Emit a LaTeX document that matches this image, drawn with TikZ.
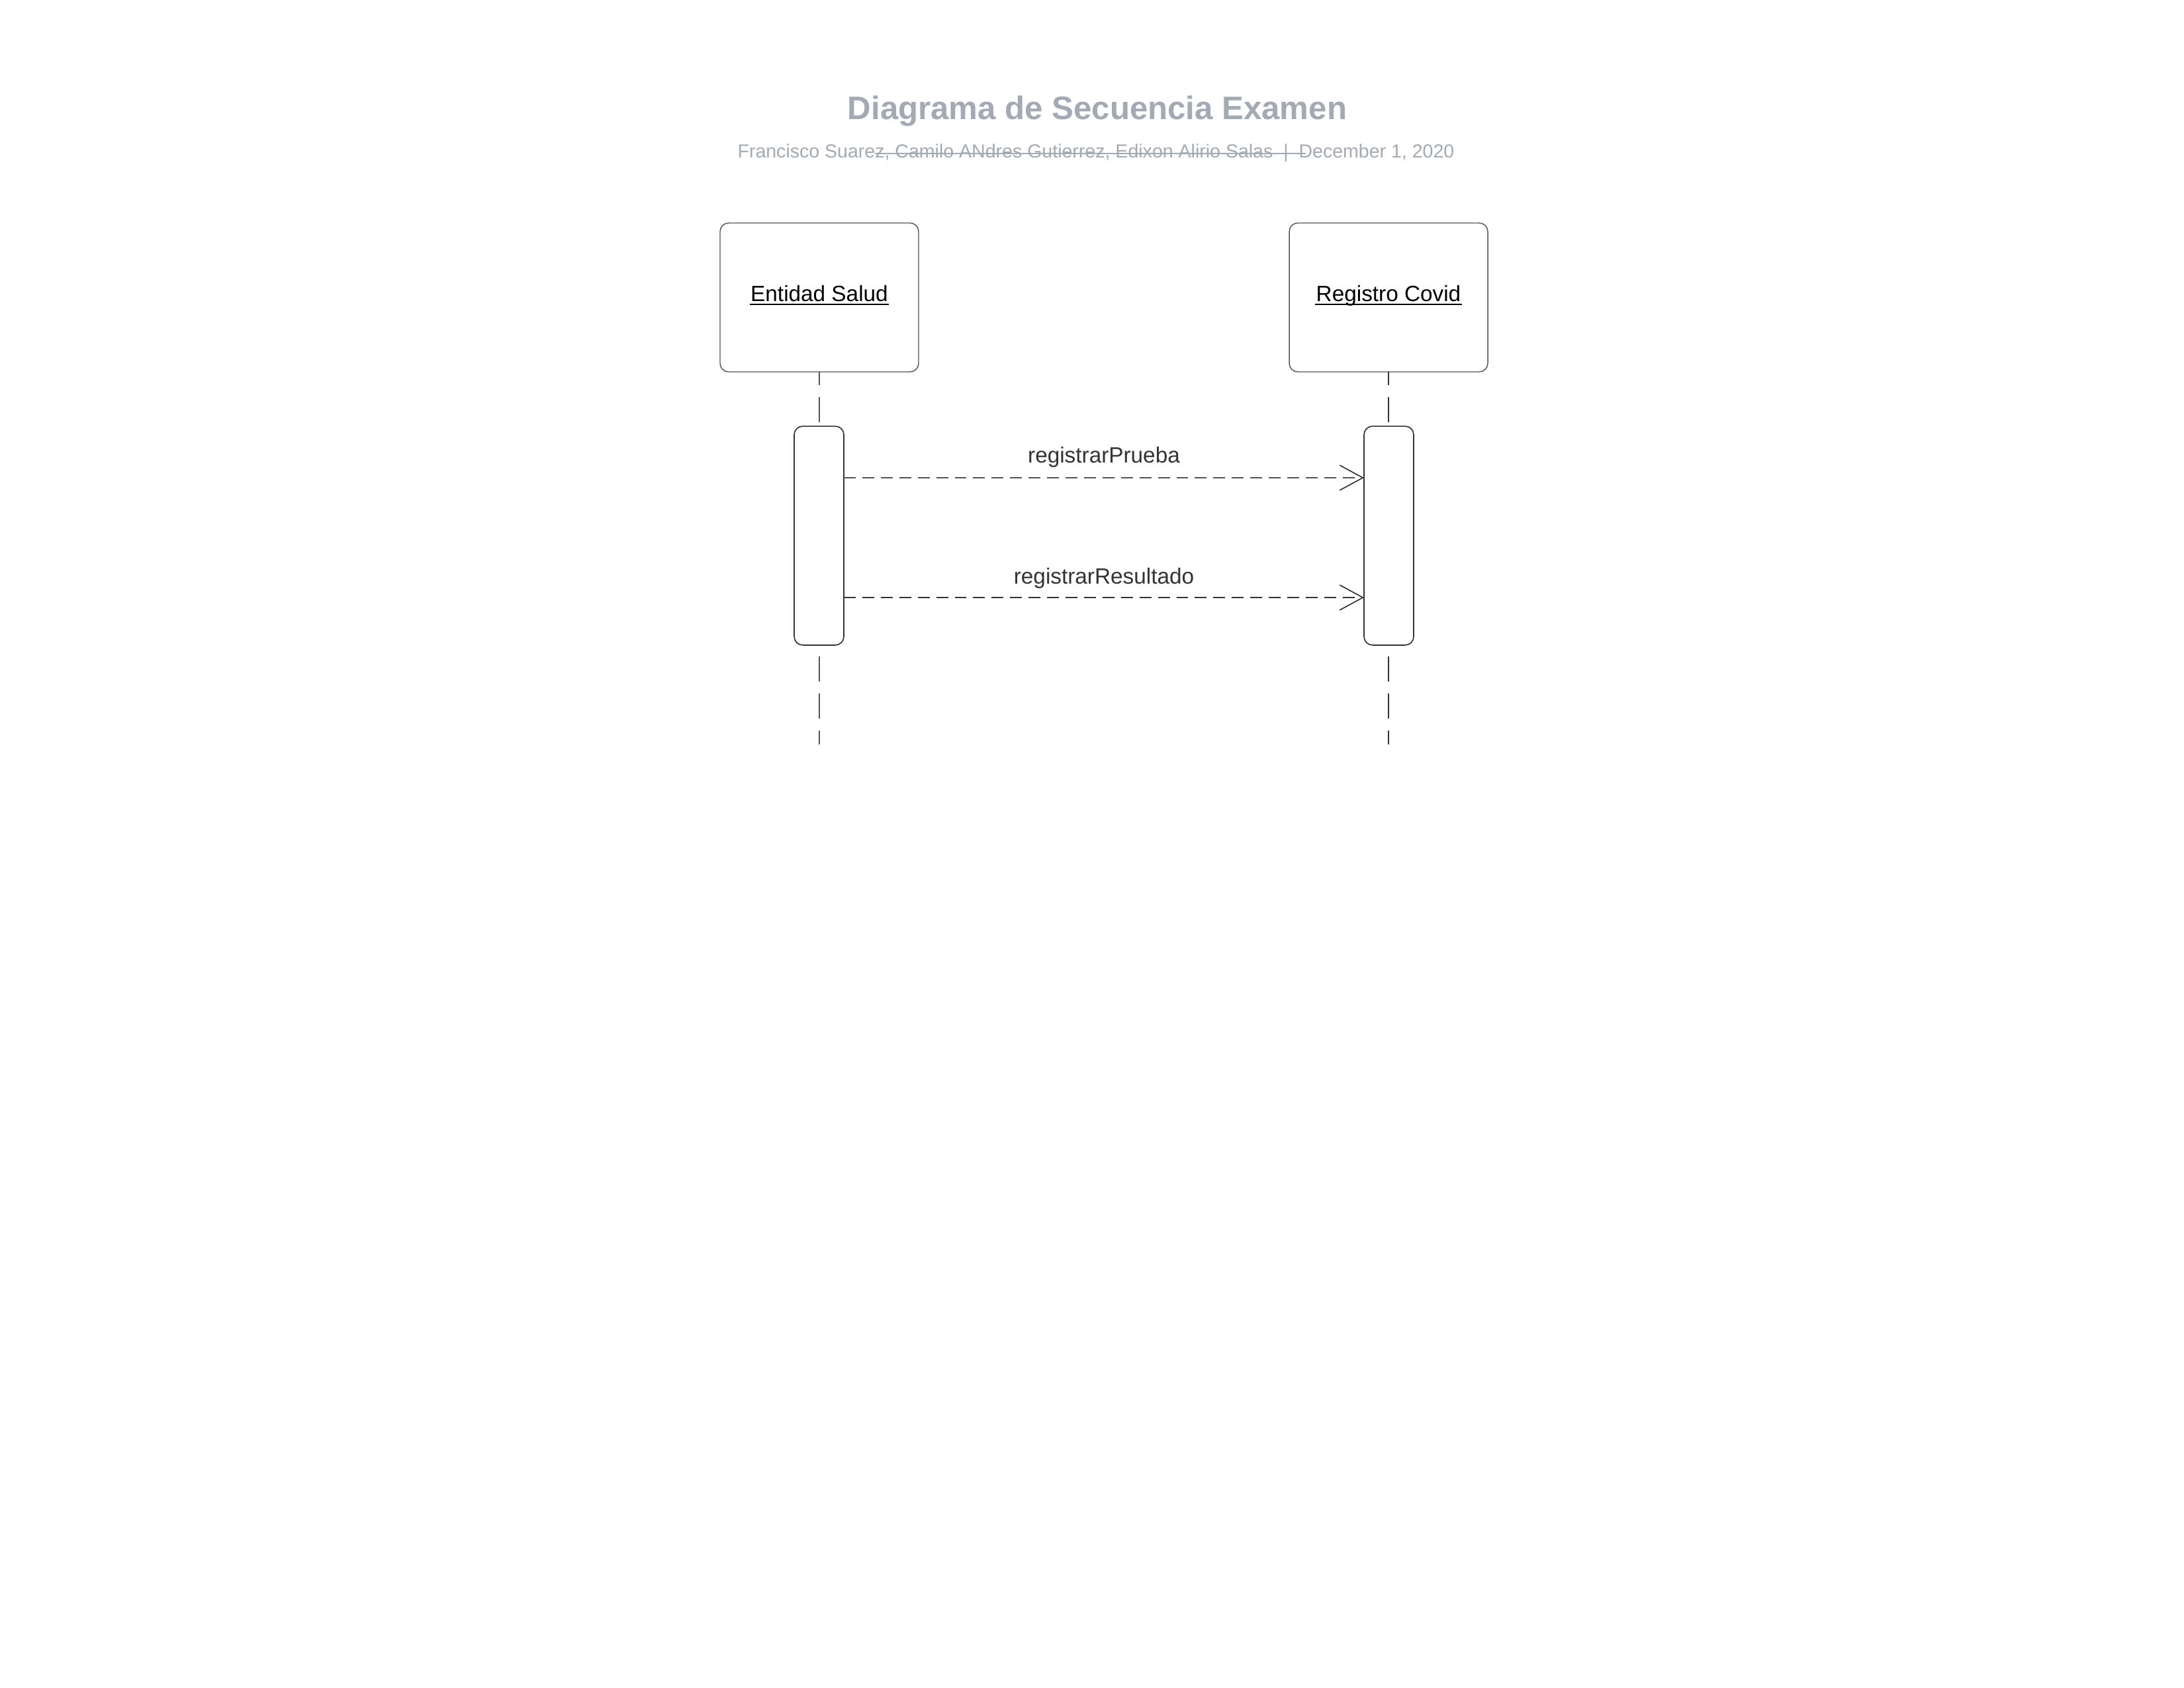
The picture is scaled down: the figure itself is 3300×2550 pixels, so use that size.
\documentclass[tikz,border=0pt]{standalone}
\usepackage{fontspec}
\setmainfont{Liberation Sans}
\usetikzlibrary{arrows.meta}
\definecolor{titlegray}{HTML}{A4AAB3}
\definecolor{edgegray}{HTML}{555555}
\definecolor{darkline}{HTML}{333333}
\newcommand{\headul}[1]{\setbox0\hbox{#1}\rlap{\kern-0.3pt\rule[-1.2pt]{\dimexpr\wd0+0.6pt\relax}{0.5pt}}\box0}
\begin{document}
\begin{tikzpicture}[x=0.24pt,y=-0.24pt,
  headbox/.style={draw=edgegray, line width=0.35pt, rounded corners=3.1pt,
    minimum width=72pt, minimum height=54pt, inner sep=0pt, outer sep=0pt,
    text height=5.5pt, text depth=2.5pt,
    fill=white, text=black, font=\fontsize{8}{9.6}\selectfont},
  actbox/.style={draw=darkline, line width=0.4pt, rounded corners=3.1pt,
    minimum width=18pt, minimum height=79.4pt, inner sep=0pt, outer sep=0pt, fill=white},
  lifeline/.style={dash pattern=on 9.12pt off 4.32pt, dash phase=4.32pt},
  msg/.style={dash pattern=on 4.3pt off 2.4pt},
  barb/.style={-{Straight Barb[length=8.4pt,width=9.1pt,color=darkline,line width=0.4pt]}},
  msglabel/.style={font=\fontsize{8}{9.6}\selectfont, text=darkline, anchor=base, inner sep=0pt},
  titletext/.style={anchor=base, text=titlegray, inner sep=0pt, font=\fontsize{11.8}{14}\selectfont\bfseries},
  subtext/.style={anchor=base, text=titlegray, inner sep=0pt, font=\fontsize{6.85}{8}\selectfont}
]
\fill[white] (0,0) rectangle (3300,2550);
\useasboundingbox (0,0) rectangle (3300,2550);

% title block
\node[titletext] (title) at (1658,180) {Diagrama de Secuencia Examen};
\node[subtext] (subtitle) at (1656,238) {Francisco Suarez, Camilo ANdres Gutierrez, Edixon Alirio Salas~~|~~December 1, 2020};
\coordinate (s1) at (1322,232);
\coordinate (s2) at (1973,232);
\draw[titlegray, line width=0.5pt] (s1) -- (s2);

% lifeline heads
\node[headbox] (lh) at (1238,449.5) {\headul{Entidad Salud}};
\node[headbox] (rh) at (2098,449.5) {\headul{Registro Covid}};

% lifeline ends
\coordinate (le) at (1238,1125);
\coordinate (re) at (2098,1125);
\draw[lifeline, edgegray, line width=0.25pt] (lh.south) -- (le);
\draw[lifeline, darkline, line width=0.4pt] (rh.south) -- (re);

% activation boxes
\node[actbox] (la) at (1237.5,809.5) {};
\node[actbox] (ra) at (2098.5,809.5) {};

% messages
\coordinate (m1) at (0,722);
\coordinate (m2) at (0,903);
\draw[msg, barb, edgegray, line width=0.25pt] (la.east |- m1) -- node[msglabel, yshift=5.3pt] (l1) {registrarPrueba} (ra.west |- m1);
\draw[msg, barb, darkline, line width=0.5pt] (la.east |- m2) -- node[msglabel, yshift=5.0pt] (l2) {registrarResultado} (ra.west |- m2);
\end{tikzpicture}
\end{document}
